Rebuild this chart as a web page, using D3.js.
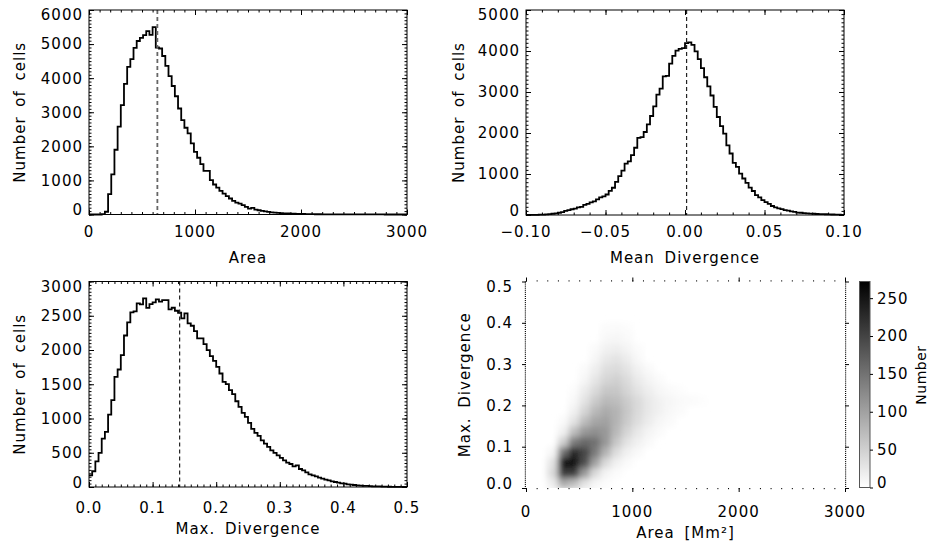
<!DOCTYPE html>
<html>
<head>
<meta charset="utf-8">
<script src="https://cdn.jsdelivr.net/npm/d3@7"></script>
<style>
body { margin: 0; background: #fff; }
text { font-family: "DejaVu Sans", sans-serif; font-size: 15px; letter-spacing: 1px; word-spacing: 4px; fill: #000; }
</style>
</head>
<body>
<script>
// histogram counts, 100 bins each
var areaCounts = [
  0,0,0,0,10,80,600,1180,1900,2580,
  3210,3830,4330,4560,4890,5090,5180,5260,5380,5270,
  5500,4900,4870,4650,4360,4060,3770,3470,3110,2770,
  2545,2380,2085,1840,1665,1480,1280,1280,1010,880,
  790,695,615,540,470,400,350,320,275,225,
  175,195,145,125,105,90,75,65,55,45,
  40,35,30,25,22,20,18,15,12,10,
  9,8,7,6,5,5,4,4,3,3,
  3,2,2,2,2,1,1,1,1,1,
  1,1,1,0,0,0,0,0,0,0];
var meanDivCounts = [
  2,3,4,5,8,10,15,20,30,40,
  55,70,100,120,140,155,185,200,245,270,
  310,330,380,430,455,500,590,665,810,950,
  1080,1255,1310,1460,1640,1880,1900,2025,2210,2415,
  2650,2935,3080,3380,3395,3690,3880,4010,4050,4070,
  4190,4210,4150,3990,3800,3580,3360,3135,2915,2635,
  2390,2170,1985,1700,1500,1270,1175,1010,890,785,
  670,585,485,430,365,315,270,220,185,160,
  145,120,105,90,75,60,55,45,40,35,
  30,25,22,20,18,15,12,10,8,5];
var maxDivCounts = [
  170,230,375,497,707,804,1058,1267,1608,1715,
  1925,2212,2403,2549,2563,2680,2665,2753,2616,2670,
  2695,2739,2705,2729,2729,2592,2617,2573,2544,2461,
  2534,2388,2354,2276,2169,2169,2086,1998,1910,1842,
  1754,1657,1535,1501,1413,1355,1252,1170,1082,1023,
  936,848,790,746,682,634,585,536,497,463,
  424,390,356,336,302,317,263,244,214,185,
  170,156,136,122,107,97,83,73,63,54,
  49,39,34,29,24,20,17,15,12,10,
  9,8,6,5,4,3,3,2,1,1];

// mean values (dashed lines)
var areaMean = 645, meanDivMean = 0.001, maxDivMean = 0.1425;

// 2D histogram: rows = Max. Divergence bins of 0.025 (from 0), cols = Area bins of 100 (from 0)
var densityRows = [
  [0,0,20,90,70,30,10,3,0,0,0,0,0,0,0,0,0,0,0,0],
  [0,0,40,210,210,110,40,12,4,0,0,0,0,0,0,0,0,0,0,0],
  [0,0,30,260,265,190,100,40,15,5,0,0,0,0,0,0,0,0,0,0],
  [0,0,10,150,230,200,140,80,35,15,6,0,0,0,0,0,0,0,0,0],
  [0,0,0,50,140,160,150,110,60,30,15,6,0,0,0,0,0,0,0,0],
  [0,0,0,15,70,110,120,110,75,45,25,12,5,0,0,0,0,0,0,0],
  [0,0,0,5,30,70,95,100,80,55,35,20,10,5,0,0,0,0,0,0],
  [0,0,0,0,15,45,75,90,80,60,40,25,15,8,4,0,0,0,0,0],
  [0,0,0,0,8,30,55,75,70,55,40,25,15,10,6,4,2,0,0,0],
  [0,0,0,0,3,20,40,60,60,45,30,18,10,5,2,0,0,0,0,0],
  [0,0,0,0,0,10,28,45,50,38,22,12,5,0,0,0,0,0,0,0],
  [0,0,0,0,0,5,18,35,40,30,15,6,0,0,0,0,0,0,0,0],
  [0,0,0,0,0,0,10,25,30,20,8,0,0,0,0,0,0,0,0,0],
  [0,0,0,0,0,0,5,15,18,12,4,0,0,0,0,0,0,0,0,0],
  [0,0,0,0,0,0,0,8,10,6,0,0,0,0,0,0,0,0,0,0],
  [0,0,0,0,0,0,0,4,5,3,0,0,0,0,0,0,0,0,0,0]];
var densityMax = 272;
var colorbarTicks = [0, 50, 100, 150, 200, 250];

// tick values
var areaTicks = [0, 1000, 2000, 3000];
var meanDivTicks = [-0.10, -0.05, 0.00, 0.05, 0.10];
var maxDivTicks = [0.0, 0.1, 0.2, 0.3, 0.4, 0.5];
var count6000Ticks = [0, 1000, 2000, 3000, 4000, 5000, 6000];
var count5000Ticks = [0, 1000, 2000, 3000, 4000, 5000];
var count3000Ticks = [0, 500, 1000, 1500, 2000, 2500, 3000];

function steps(lo, hi, n) {
  return d3.range(n + 1).map(function(i) { return lo + (hi - lo) * i / n; });
}

var svg = d3.select("body").append("svg")
    .attr("width", 930)
    .attr("height", 546);

// draw the IDL style ticks round a box
function drawTicks(g, x, y, box, c) {
  var s = c.outward ? 1 : -1;
  var sides = [
    [d3.axisBottom, x, "translate(0," + box.bottom + ")", c.xMaj, c.xMin],
    [d3.axisTop, x, "translate(0," + box.top + ")", c.xMaj, c.xMin],
    [d3.axisLeft, y, "translate(" + box.left + ",0)", c.yMaj, c.yMin],
    [d3.axisRight, y, "translate(" + box.right + ",0)", c.yMaj, c.yMin]
  ];
  sides.forEach(function(sd) {
    [[sd[3], c.majL], [sd[4], c.minL]].forEach(function(t) {
      var ax = sd[0](sd[1]).tickValues(t[0]).tickSize(s * t[1]).tickFormat("");
      var gg = g.append("g").attr("transform", sd[2]).call(ax);
      gg.select(".domain").remove();
      gg.selectAll("line").attr("stroke", "#000").attr("stroke-width", 1);
    });
  });
}

function drawLabels(g, x, y, box, c) {
  g.selectAll(".xl").data(c.xMaj).enter().append("text")
      .attr("x", function(d) { return x(d); })
      .attr("y", c.xBase)
      .style("text-anchor", "middle")
      .text(c.xFmt);
  var n = c.yMaj.length;
  g.selectAll(".yl").data(c.yMaj).enter().append("text")
      .attr("x", c.yLabX)
      .attr("y", function(d, i) {
        var shift = i == 0 ? -4.5 : (i == n - 1 ? 5 : 0);
        return y(d) + shift;
      })
      .attr("dy", "0.36em")
      .style("text-anchor", "end")
      .text(c.yFmt);
  g.append("text")
      .attr("x", (box.left + box.right) / 2)
      .attr("y", c.titleBase)
      .style("text-anchor", "middle")
      .text(c.xTitle);
  g.append("text")
      .attr("transform", "translate(" + c.yTitleX + "," + ((box.top + box.bottom) / 2) + ") rotate(-90)")
      .style("text-anchor", "middle")
      .text(c.yTitle);
}

function histogram(counts, xDom, yDom, box, mean, c) {
  var x = d3.scaleLinear().domain(xDom).range([box.left, box.right]);
  var y = d3.scaleLinear().domain(yDom).range([box.bottom, box.top]);
  var g = svg.append("g");
  var w = (xDom[1] - xDom[0]) / counts.length;
  var pts = counts.map(function(v, i) { return [xDom[0] + i * w, v]; });
  pts.push([xDom[1], counts[counts.length - 1]]);

  var line = d3.line()
      .curve(d3.curveStepAfter)
      .x(function(d) { return x(d[0]); })
      .y(function(d) { return y(d[1]); });

  g.append("path")
      .datum(pts)
      .attr("d", line)
      .attr("fill", "none")
      .attr("stroke", "#000")
      .attr("stroke-width", 1.8);

  g.append("line")
      .attr("x1", x(mean)).attr("x2", x(mean))
      .attr("y1", box.top).attr("y2", box.bottom)
      .attr("stroke", c.meanColor)
      .attr("stroke-width", c.meanWidth)
      .attr("stroke-dasharray", "4,3");

  g.append("rect")
      .attr("x", box.left).attr("y", box.top)
      .attr("width", box.right - box.left)
      .attr("height", box.bottom - box.top)
      .attr("fill", "none")
      .attr("stroke", "#000")
      .attr("stroke-width", 1);

  c.majL = 5; c.minL = 2.5;
  drawTicks(g, x, y, box, c);
  drawLabels(g, x, y, box, c);
}

// Panel 1: Area
var box1 = {left: 89, right: 407, top: 10, bottom: 214.5};
histogram(areaCounts, [0, 3000], [0, 6000], box1, areaMean, {
  xMaj: areaTicks, xMin: steps(0, 3000, 30),
  yMaj: count6000Ticks, yMin: steps(0, 6000, 60),
  xFmt: d3.format("d"), yFmt: d3.format("d"),
  xBase: 237.3, titleBase: 263.3, yLabX: 83,
  xTitle: "Area", yTitle: "Number of cells", yTitleX: 25,
  meanColor: "#666", meanWidth: 1.8
});

// Panel 2: Mean Divergence
var box2 = {left: 526, right: 844, top: 10, bottom: 215};
histogram(meanDivCounts, [-0.1, 0.1], [0, 5000], box2, meanDivMean, {
  xMaj: meanDivTicks, xMin: steps(-0.1, 0.1, 20),
  yMaj: count5000Ticks, yMin: steps(0, 5000, 50),
  xFmt: function(d) { return d3.format(".2f")(d).replace("-", "\u2212"); }, yFmt: d3.format("d"),
  xBase: 237.3, titleBase: 263.3, yLabX: 520,
  xTitle: "Mean Divergence", yTitle: "Number of cells", yTitleX: 463.5,
  meanColor: "#222", meanWidth: 1.2
});

// Panel 3: Max. Divergence
var box3 = {left: 89, right: 407, top: 281.5, bottom: 487};
histogram(maxDivCounts, [0, 0.5], [0, 3000], box3, maxDivMean, {
  xMaj: maxDivTicks, xMin: steps(0, 0.5, 50),
  yMaj: count3000Ticks, yMin: steps(0, 3000, 60),
  xFmt: d3.format(".1f"), yFmt: d3.format("d"),
  xBase: 512.7, titleBase: 534, yLabX: 83,
  xTitle: "Max. Divergence", yTitle: "Number of cells", yTitleX: 25,
  meanColor: "#222", meanWidth: 1.2
});

// Panel 4: 2D histogram
var box4 = {left: 526, right: 845, top: 281.5, bottom: 488};
var x4 = d3.scaleLinear().domain([0, 3000]).range([box4.left, box4.right]);
var y4 = d3.scaleLinear().domain([0, 0.5]).range([box4.bottom, box4.top]);
var grey = d3.scaleLinear().domain([0, densityMax]).range(["#ffffff", "#000000"]).clamp(true);

var defs = svg.append("defs");
defs.append("clipPath").attr("id", "clip4")
  .append("rect")
    .attr("x", box4.left).attr("y", box4.top)
    .attr("width", box4.right - box4.left)
    .attr("height", box4.bottom - box4.top);
defs.append("filter").attr("id", "soft")
    .attr("x", "-20%").attr("y", "-20%").attr("width", "140%").attr("height", "140%")
  .append("feGaussianBlur").attr("stdDeviation", 3);

var cells = [];
densityRows.forEach(function(row, r) {
  row.forEach(function(v, c) {
    if (v > 0) cells.push({a0: c * 100, a1: c * 100 + 100, d0: r * 0.025, d1: r * 0.025 + 0.025, v: v});
  });
});

var g4 = svg.append("g");
g4.append("g")
    .attr("clip-path", "url(#clip4)")
  .append("g")
    .attr("filter", "url(#soft)")
  .selectAll("rect")
  .data(cells)
  .enter().append("rect")
    .attr("x", function(d) { return x4(d.a0); })
    .attr("y", function(d) { return y4(d.d1); })
    .attr("width", function(d) { return x4(d.a1) - x4(d.a0) + 0.5; })
    .attr("height", function(d) { return y4(d.d0) - y4(d.d1) + 0.5; })
    .attr("fill", function(d) { return grey(d.v); });

var c4 = {
  xMaj: areaTicks, xMin: steps(0, 3000, 30),
  yMaj: maxDivTicks, yMin: steps(0, 0.5, 100),
  majL: 4, minL: 1.2, outward: true,
  xFmt: d3.format("d"), yFmt: d3.format(".1f"),
  xBase: 516.7, titleBase: 538, yLabX: 513,
  xTitle: "Area [Mm\u00b2]", yTitle: "Max. Divergence", yTitleX: 469.5
};
drawTicks(g4, x4, y4, box4, c4);
drawLabels(g4, x4, y4, box4, c4);

// colour bar
var cb = {left: 859.5, right: 870, top: 281.5, bottom: 487.5};
var yc = d3.scaleLinear().domain([0, densityMax]).range([cb.bottom, cb.top]);
var grad = defs.append("linearGradient").attr("id", "cbgrad")
    .attr("x1", 0).attr("y1", 1).attr("x2", 0).attr("y2", 0);
grad.append("stop").attr("offset", "0%").attr("stop-color", grey(0));
grad.append("stop").attr("offset", "100%").attr("stop-color", grey(densityMax));

svg.append("rect")
    .attr("x", cb.left).attr("y", cb.top)
    .attr("width", cb.right - cb.left).attr("height", cb.bottom - cb.top)
    .attr("fill", "url(#cbgrad)")
    .attr("stroke", "#555")
    .attr("stroke-width", 1);

var cbAxis = svg.append("g")
    .attr("transform", "translate(" + cb.right + ",0)")
    .call(d3.axisRight(yc).tickValues(colorbarTicks).tickSize(3).tickFormat(""));
cbAxis.select(".domain").remove();
cbAxis.selectAll("line").attr("stroke", "#000");

svg.selectAll(".cbl").data(colorbarTicks).enter().append("text")
    .attr("x", 877)
    .attr("y", function(d, i) { return yc(d) + (i == 0 ? -5 : 0); })
    .attr("dy", "0.36em")
    .style("text-anchor", "start")
    .text(function(d) { return d; });

// "Number" sits tight against the right edge, as in the original figure
svg.append("text")
    .attr("transform", "translate(925.5,375) rotate(-90)")
    .style("text-anchor", "middle")
    .style("font-size", "14px")
    .style("letter-spacing", "0.5px")
    .text("Number");
</script>
</body>
</html>
